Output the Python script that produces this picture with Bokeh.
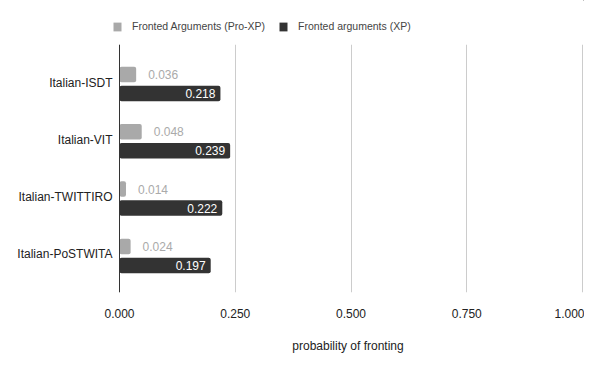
from bokeh.plotting import figure
from bokeh.models import (ColumnDataSource, FactorRange, Range1d, FixedTicker,
                          NumeralTickFormatter, Legend, LegendItem, Span)
from bokeh.layouts import column
from bokeh.core.properties import value
from bokeh.transform import dodge
from bokeh.embed import file_html
from bokeh.resources import INLINE

# ---- data ----
corpora = ["Italian-ISDT", "Italian-VIT", "Italian-TWITTIRO", "Italian-PoSTWITA"]
pro_xp = [0.036, 0.048, 0.014, 0.024]
xp = [0.218, 0.239, 0.222, 0.197]
series_names = ["Fronted Arguments (Pro-XP)", "Fronted arguments (XP)"]
x_ticks = [0.0, 0.25, 0.5, 0.75, 1.0]
x_title = "probability of fronting"

GRAY = "#a9a9a9"
DARK = "#333333"
FONT = "Liberation Sans"

src = ColumnDataSource(dict(
    corpus=corpora,
    pro=pro_xp,
    xp=xp,
    pro_lbl=["%.3f" % v for v in pro_xp],
    xp_lbl=["%.3f" % v for v in xp],
))

# ---- legend strip (own small figure; its zero-height bars stay out of view) ----
leg = figure(width=584, height=44, x_range=Range1d(-10, -9), y_range=Range1d(-10, -9),
             x_axis_type=None, y_axis_type=None,
             output_backend="svg", toolbar_location=None,
             min_border_left=112, min_border_right=1,
             min_border_top=0, min_border_bottom=0)
leg.outline_line_color = None
leg.grid.grid_line_color = None
d1 = leg.hbar(y="pro", left=0, right="pro", height=0, source=src,
              fill_color=GRAY, line_color=None)
d2 = leg.hbar(y="xp", left=0, right="xp", height=0, source=src,
              fill_color=DARK, line_color=None)
legend = Legend(items=[LegendItem(label=series_names[0], renderers=[d1]),
                       LegendItem(label=series_names[1], renderers=[d2])],
                orientation="horizontal", location=(0, 12),
                glyph_width=10, glyph_height=11, label_standoff=10,
                label_height=12, spacing=13, padding=0, margin=0,
                border_line_color=None, background_fill_alpha=0,
                label_text_font=FONT, label_text_font_size="10.5px",
                label_text_color="#444444")
leg.add_layout(legend, "center")

# ---- main chart ----
factors = list(reversed(corpora))
p = figure(width=584, height=311,
           y_range=FactorRange(factors=factors, range_padding=0.1635,
                               range_padding_units="absolute"),
           x_range=Range1d(-0.01512, 1.00216),
           output_backend="svg", toolbar_location=None,
           min_border_left=112, min_border_right=1,
           min_border_top=0, min_border_bottom=57)
p.outline_line_color = None
p.background_fill_color = "white"
p.border_fill_color = "white"

off_pro = 0.141
off_xp = -0.191
bh = 0.27

p.hbar(y=dodge("corpus", off_pro, range=p.y_range), left=0, right="pro",
       height=bh, source=src, fill_color=GRAY, line_color=None,
       border_radius=2)
p.hbar(y=dodge("corpus", off_xp, range=p.y_range), left=0, right="xp",
       height=bh, source=src, fill_color=DARK, line_color=None,
       border_radius=2)

p.text(x="pro", y=dodge("corpus", off_pro, range=p.y_range), text="pro_lbl",
       source=src, x_offset=12, text_align="left", text_baseline="middle",
       text_font=value(FONT), text_font_size="12px", text_color="#aaaaaa")
p.text(x="xp", y=dodge("corpus", off_xp, range=p.y_range), text="xp_lbl",
       source=src, x_offset=-5, text_align="right", text_baseline="middle",
       text_font=value(FONT), text_font_size="12px", text_color="white")

# baseline at zero
p.add_layout(Span(location=0, dimension="height", line_color="#333333",
                  line_width=1))

p.xaxis.ticker = FixedTicker(ticks=x_ticks)
p.xaxis.formatter = NumeralTickFormatter(format="0.000")
p.xaxis.axis_line_color = None
p.xaxis.major_tick_line_color = None
p.xaxis.minor_tick_line_color = None
p.xaxis.major_label_standoff = 10
p.xaxis.major_label_text_font = FONT
p.xaxis.major_label_text_font_size = "12px"
p.xaxis.major_label_text_color = "#222222"
p.xaxis.axis_label = x_title
p.xaxis.axis_label_text_font = FONT
p.xaxis.axis_label_text_font_size = "12px"
p.xaxis.axis_label_text_font_style = "normal"
p.xaxis.axis_label_text_color = "#222222"
p.xaxis.axis_label_standoff = 18

p.yaxis.axis_line_color = None
p.yaxis.major_tick_line_color = None
p.yaxis.minor_tick_line_color = None
p.yaxis.major_tick_out = 0
p.yaxis.major_label_standoff = 0
p.yaxis.major_label_text_font = FONT
p.yaxis.major_label_text_font_size = "12px"
p.yaxis.major_label_text_color = "#222222"

p.xgrid.ticker = FixedTicker(ticks=x_ticks)
p.xgrid.grid_line_color = "#cccccc"
p.ygrid.grid_line_color = None

layout = column(leg, p, spacing=0)
open("out.html", "w").write(file_html(layout, INLINE))
